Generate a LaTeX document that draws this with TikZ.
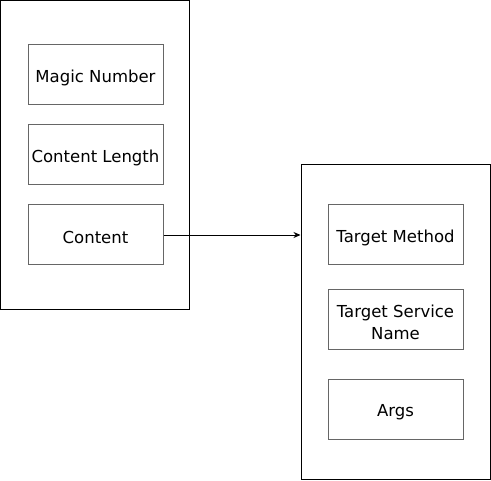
\documentclass[tikz,border=0pt]{standalone}
\usepackage{fontspec}
\setmainfont{DejaVu Sans}
\usetikzlibrary{arrows.meta}
\definecolor{boxgray}{RGB}{102,102,102}
\begin{document}
\begin{tikzpicture}[x=1pt,y=-1pt,
  outer/.style={draw=black,line width=1pt},
  field/.style={draw=boxgray,line width=1pt,minimum width=135pt,minimum height=60pt,inner sep=0pt,align=center},
  lbl/.style={inner sep=0pt,align=center,font=\fontsize{16.5}{22}\selectfont},
  conn/.style={draw=black,line width=0.9pt,-{Stealth[length=7pt,width=6pt]}}]
\useasboundingbox (0,0) rectangle (491,481);
\node[outer,minimum width=189pt,minimum height=309pt,inner sep=0pt] (left) at (95,155) {};
\node[outer,minimum width=189pt,minimum height=315pt,inner sep=0pt] (right) at (395.5,322.5) {};
\node[field] (magic) at (95.5,75) {};
\node[field] (clen) at (95.5,155) {};
\node[field] (content) at (95.5,235) {};
\node[field] (tmethod) at (395.5,235) {};
\node[field] (tsname) at (395.5,320) {};
\node[field] (args) at (395.5,410) {};
\node[lbl] (magict) at ([yshift=-2.5pt]magic.center) {Magic Number};
\node[lbl] (clent) at ([yshift=-2.5pt]clen.center) {Content Length};
\node[lbl] (contentt) at ([yshift=-2.5pt]content.center) {Content};
\node[lbl] (tmethodt) at ([yshift=-2.5pt]tmethod.center) {Target Method};
\node[lbl] (tsnamet) at ([yshift=-2.5pt]tsname.center) {Target Service\\Name};
\node[lbl] (argst) at ([yshift=-2.5pt]args.center) {Args};
\draw[conn] (content.east) -- (content.east -| right.west);
\end{tikzpicture}
\end{document}
